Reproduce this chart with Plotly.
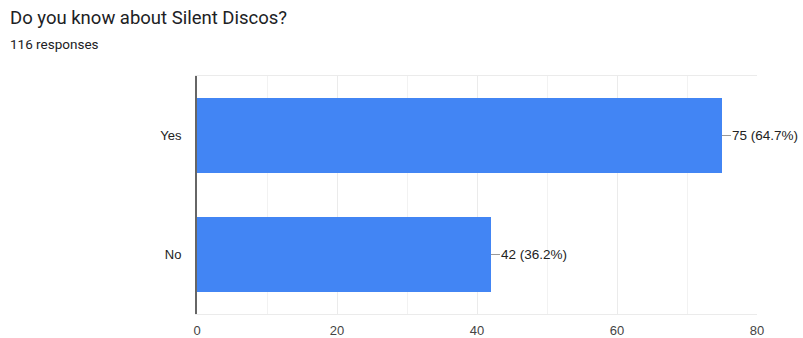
import plotly.graph_objects as go

categories = ["Yes", "No"]
counts = [75, 42]
percents = ["64.7%", "36.2%"]
title = "Do you know about Silent Discos?"
subtitle = "116 responses"
x_ticks = [0, 20, 40, 60, 80]

W, H = 803, 338
L, R, T, B = 197, 46, 76, 24
PW, PH = W - L - R, H - T - B

fig = go.Figure()
fig.add_trace(go.Bar(
    y=categories, x=counts, orientation="h",
    marker=dict(color="#4285f4", line=dict(width=0)),
    hoverinfo="skip",
))

anns = []
for c, v, p in zip(categories, counts, percents):
    anns.append(dict(
        x=v, y=c, xref="x", yref="y",
        text=f"{v} ({p})", showarrow=True, arrowhead=0, arrowwidth=1,
        arrowcolor="#999999", ax=9, ay=0, xanchor="left",
        font=dict(family="Liberation Sans, Arial", size=13.5, color="#222222"),
        borderpad=0,
    ))

anns.append(dict(text=title, xref="paper", yref="paper", x=(8 - L) / PW, y=1 + (T - 17.5) / PH,
                 xanchor="left", yanchor="middle", showarrow=False,
                 font=dict(family="Roboto", size=18.5, color="#202124")))
anns.append(dict(text=subtitle, xref="paper", yref="paper", x=(8 - L) / PW, y=1 + (T - 44) / PH,
                 xanchor="left", yanchor="middle", showarrow=False,
                 font=dict(family="Roboto", size=13.5, color="#202124")))

fig.update_layout(
    width=W, height=H,
    margin=dict(l=L, r=R, t=T, b=B, autoexpand=False),
    plot_bgcolor="white", paper_bgcolor="white",
    bargap=0.37,
    showlegend=False,
    annotations=anns,
    xaxis=dict(
        range=[0, 80], tickvals=x_ticks, showgrid=True, gridcolor="#ebebeb",
        minor=dict(dtick=10, showgrid=True, gridcolor="#f2f2f2"),
        zeroline=False, showline=True, mirror=True, linecolor="#ebebeb",
        tickfont=dict(family="Liberation Sans, Arial", size=13, color="#444444"),
        fixedrange=True, automargin=False, ticklabelstandoff=4,
    ),
    yaxis=dict(
        categoryorder="array", categoryarray=categories[::-1],
        showline=True, linecolor="#666666", linewidth=2,
        showgrid=False, ticklabelstandoff=11, automargin=False,
        tickfont=dict(family="Liberation Sans, Arial", size=13, color="#222222"),
        fixedrange=True,
    ),
)

fig.write_html("out.html", config={"displayModeBar": False},
               post_script="document.body.style.margin='0';")
